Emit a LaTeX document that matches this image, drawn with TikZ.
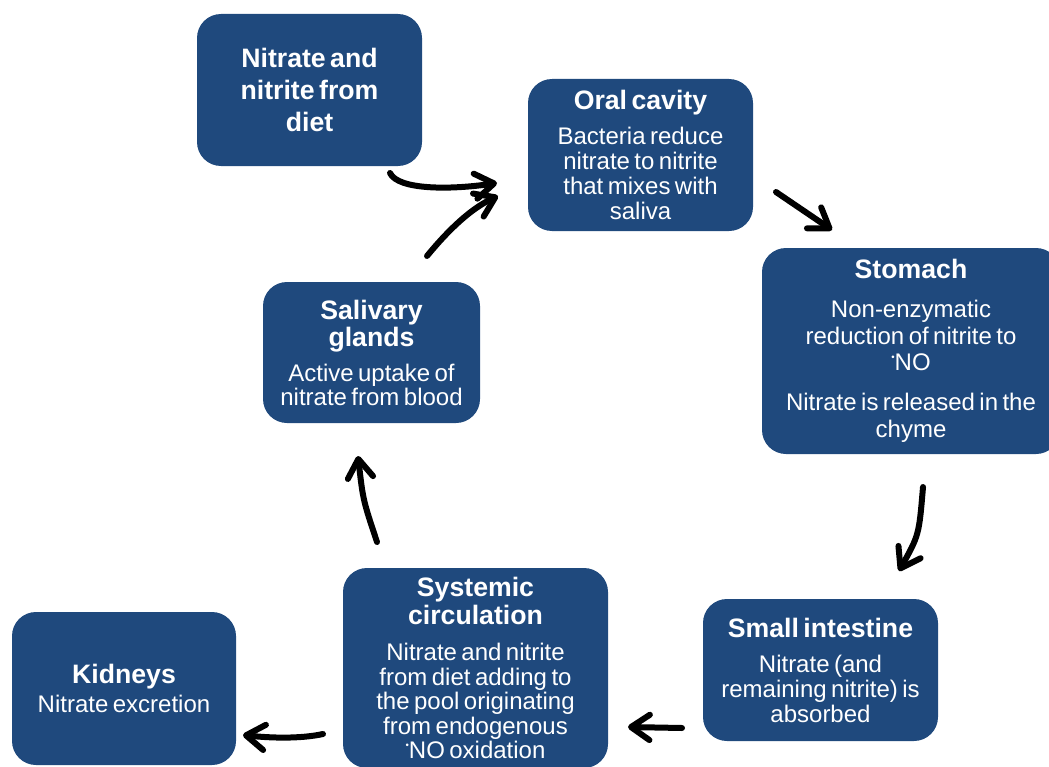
\documentclass[tikz,border=0pt]{standalone}
\usepackage{fontspec}
\setmainfont{Liberation Sans}
\usetikzlibrary{arrows.meta}
\definecolor{boxblue}{RGB}{31,73,125}
\newcommand{\ttl}[2][21pt]{{\fontsize{20}{#1}\selectfont\bfseries #2\par}}
\newcommand{\bdy}[2][18.75pt]{{\fontsize{18}{#1}\selectfont #2\par}}
\newcommand{\rNO}{\raisebox{0.42em}{\scalebox{0.4}{\textbullet}}NO}
\begin{document}
\begin{tikzpicture}[x=0.75pt,y=-0.75pt,
  box/.style={draw=none, fill=boxblue, rounded corners=18pt, text=white,
    align=center, inner sep=0pt},
  flow/.style={line width=4.5pt, line cap=round, black,
    -{Straight Barb[length=14pt,width=19pt,line cap=round,line join=round]}}]
\useasboundingbox (0,0) rectangle (1049,767);

\node[box, minimum width=168.75pt, minimum height=114pt, text width=162pt] (diet) at (309.5,90)
  {\ttl[24pt]{Nitrate and\\nitrite from\\diet}};
\node[box, minimum width=168.75pt, minimum height=114pt, text width=162pt] (oral) at (640.5,155)
  {\ttl{Oral cavity}\vspace{8pt}\bdy{Bacteria reduce\\nitrate to nitrite\\that mixes with\\saliva}};
\node[box, minimum width=223.5pt, minimum height=154.5pt, text width=218pt] (stomach) at (911,351)
  {\ttl{Stomach}\vspace{9pt}\bdy[20pt]{Non-enzymatic\\reduction of nitrite to\\\rNO}\vspace{10pt}\bdy[20pt]{Nitrate is released in the\\chyme}};
\node[box, minimum width=176.25pt, minimum height=106.5pt, text width=172pt] (intestine) at (820.5,670)
  {\ttl{Small intestine}\vspace{7.5pt}\bdy{Nitrate (and\\remaining nitrite) is\\absorbed}};
\node[box, minimum width=198.75pt, minimum height=150pt, text width=194pt] (systemic) at (475.5,668)
  {\ttl{Systemic\\circulation}\vspace{9pt}\bdy[18.4pt]{Nitrate and nitrite\\from diet adding to\\the pool originating\\from endogenous\\\rNO{} oxidation}};
\node[box, minimum width=168pt, minimum height=114.75pt, text width=164pt] (kidneys) at (124,688.5)
  {\ttl{Kidneys}\vspace{3pt}\bdy{Nitrate excretion}};
\node[box, minimum width=162.75pt, minimum height=105.75pt, text width=158pt] (salivary) at (371.5,352.5)
  {\ttl[20.25pt]{Salivary\\glands}\vspace{8.25pt}\bdy[18pt]{Active uptake of\\nitrate from blood}};

% arrow end points
\coordinate (a1s) at (390,173); \coordinate (a1e) at (497,183);
\coordinate (a2s) at (427,256); \coordinate (a2e) at (498,196);
\coordinate (a3s) at (776,192); \coordinate (a3e) at (832,230);
\coordinate (a4s) at (923,487); \coordinate (a4e) at (899,571);
\coordinate (a5s) at (682,728); \coordinate (a5e) at (628,727);
\coordinate (a6s) at (323,734); \coordinate (a6e) at (243,735);
\coordinate (a7s) at (377,542); \coordinate (a7e) at (358,456);

\draw[flow] (a1s) .. controls (398,190) and (450,190) .. (a1e);
\draw[flow] (a2s) .. controls (450,228) and (472,208) .. (a2e);
\draw[flow] (a3s) -- (a3e);
\draw[flow] (a4s) .. controls (919,535) .. (a4e);
\draw[flow] (a5s) -- (a5e);
\draw[flow] (a6s) .. controls (300,739) and (270,738) .. (a6e);
\draw[flow] (a7s) .. controls (363,500) .. (a7e);
\end{tikzpicture}
\end{document}
